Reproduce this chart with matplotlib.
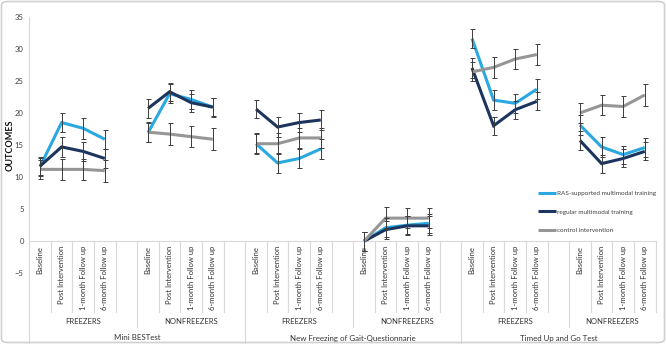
import matplotlib
matplotlib.use("Agg")
import matplotlib.pyplot as plt
import matplotlib.transforms as mtransforms
from matplotlib.patches import FancyBboxPatch
import numpy as np

tests = ["Mini BESTest", "New Freezing of Gait-Questionnarie", "Timed Up and Go Test"]
groups = ["FREEZERS", "NONFREEZERS"]
timepoints = ["Baseline", "Post Intervention", "1-month Follow up", "6-month Follow up"]

series_names = ["RAS-supported multimodal training", "regular multimodal training", "control intervention"]

# values in order: Mini F, Mini NF, NFOG F, NFOG NF, TUG F, TUG NF
ras = [11.6, 18.5, 17.6, 15.9, 16.9, 23.0, 22.1, 20.9,
       15.2, 12.2, 12.9, 14.4, 0.0, 2.1, 2.5, 2.8,
       31.6, 22.0, 21.5, 23.7, 18.1, 14.7, 13.5, 14.6]
regular = [11.7, 14.7, 14.0, 12.9, 20.7, 23.3, 21.6, 20.9,
           20.6, 17.8, 18.5, 18.9, 0.0, 1.8, 2.4, 2.4,
           27.0, 18.0, 20.5, 21.8, 15.7, 12.1, 12.9, 14.0]
control = [11.2, 11.2, 11.2, 11.0, 17.0, 16.7, 16.3, 15.9,
           15.2, 15.2, 16.1, 16.1, 0.0, 3.6, 3.6, 3.6,
           26.4, 27.1, 28.4, 29.1, 20.0, 21.2, 21.0, 22.8]

ras_err = [1.4, 1.5, 1.6, 1.5, 1.5, 1.5, 1.5, 1.4,
           1.5, 1.5, 1.5, 1.6, 1.5, 1.5, 1.4, 1.5,
           1.5, 1.5, 1.5, 1.6, 1.6, 1.5, 1.4, 1.5]
regular_err = [1.4, 1.5, 1.5, 1.5, 1.5, 1.4, 1.4, 1.5,
               1.4, 1.5, 1.5, 1.5, 1.5, 1.4, 1.5, 1.5,
               1.5, 1.4, 1.4, 1.4, 1.5, 1.4, 1.4, 1.4]
control_err = [1.5, 1.6, 1.6, 1.7, 1.6, 1.7, 1.6, 1.7,
               1.6, 1.6, 1.5, 1.6, 1.5, 1.7, 1.6, 1.6,
               1.5, 1.6, 1.6, 1.6, 1.6, 1.6, 1.6, 1.7]

colors = ["#2aa8df", "#1c355e", "#969696"]

W, H = 666, 344
fig = plt.figure(figsize=(W / 100, H / 100), dpi=100)
plt.rcParams["font.family"] = ["Lato", "DejaVu Sans"]

x_left, x_right = 29.2, 655.6
y_top, y_bot = 16.7, 273.3
ax = fig.add_axes([x_left / W, 1 - y_bot / H, (x_right - x_left) / W, (y_bot - y_top) / H])
ax.set_xlim(-0.5, 28.5)
ax.set_ylim(-5, 35)
ax.set_yticks(np.arange(-5, 36, 5))
ax.tick_params(axis="y", length=0, labelsize=5.5, labelcolor="#404040", pad=4)
ax.set_xticks([])
for s in ["top", "right", "bottom"]:
    ax.spines[s].set_visible(False)
ax.spines["left"].set_color("#d9d9d9")
ax.spines["left"].set_linewidth(0.8)
ax.axhline(0, color="#d9d9d9", lw=0.8, zorder=1)
fig.text(10 / W, 1 - 145 / H, "OUTCOMES", rotation=90, ha="center", va="center",
         fontsize=6.5, fontweight="bold", color="#111111")


def slot(t, g, i):
    return t * 10 + g * 5 + i


handles = []
for name, vals, errs, c in zip(series_names, [ras, regular, control],
                               [ras_err, regular_err, control_err], colors):
    vals = np.array(vals)
    errs = np.array(errs)
    k = 0
    for t in range(3):
        for g in range(2):
            xs = [slot(t, g, i) for i in range(4)]
            ln, = ax.plot(xs, vals[k:k + 4], color=c, lw=2.2, zorder=3,
                          solid_capstyle="butt", solid_joinstyle="miter")
            ax.errorbar(xs, vals[k:k + 4], yerr=errs[k:k + 4], fmt="none",
                        ecolor="#3c3c3c", elinewidth=0.7, capsize=1.8,
                        capthick=0.7, zorder=4)
            k += 4
    ln.set_label(name)
    handles.append(ln)

leg = fig.legend(handles=handles, loc="upper left",
                 bbox_to_anchor=(538 / W, 1 - 191 / H), frameon=False,
                 fontsize=4.6, handlelength=2.8, handletextpad=0.1,
                 labelspacing=2.0, borderpad=0, borderaxespad=0)
for t in leg.get_texts():
    t.set_color("#404040")

# multi-level category labels
trans = mtransforms.blended_transform_factory(ax.transData, fig.transFigure)


def fy(py):
    return 1 - py / H


y0 = 241
for b in range(30):
    xb = b - 0.5
    if b in (0, 10, 20):
        yend = 343
    elif b in (5, 15, 25):
        yend = 327
    else:
        yend = 312
    ax.plot([xb, xb], [fy(y0), fy(yend)], transform=trans, color="#d9d9d9",
            lw=0.8, clip_on=False)

txt = "#333333"
for t in range(3):
    for g in range(2):
        for i, lab in enumerate(timepoints):
            ax.text(slot(t, g, i), fy(246), lab, transform=trans, rotation=90,
                    ha="center", va="top", fontsize=5.5, color=txt)
        n = 4 if (t == 2 and g == 1) else 5
        gx = slot(t, g, 0) - 0.5 + n / 2
        ax.text(gx, fy(321.5), groups[g], transform=trans, ha="center",
                va="center", fontsize=5.5, color=txt)
    n = 9 if t == 2 else 10
    ax.text(t * 10 - 0.5 + n / 2, fy(338), tests[t], transform=trans,
            ha="center", va="center", fontsize=5.7, color=txt)

border = FancyBboxPatch((1.5 / W, 1.5 / H), (W - 3) / W, (H - 3) / H,
                        boxstyle="round,pad=0,rounding_size=0.01",
                        transform=fig.transFigure, fill=False,
                        edgecolor="#d0d0d0", lw=1.2)
fig.patches.append(border)

fig.savefig("out.png", dpi=100)
